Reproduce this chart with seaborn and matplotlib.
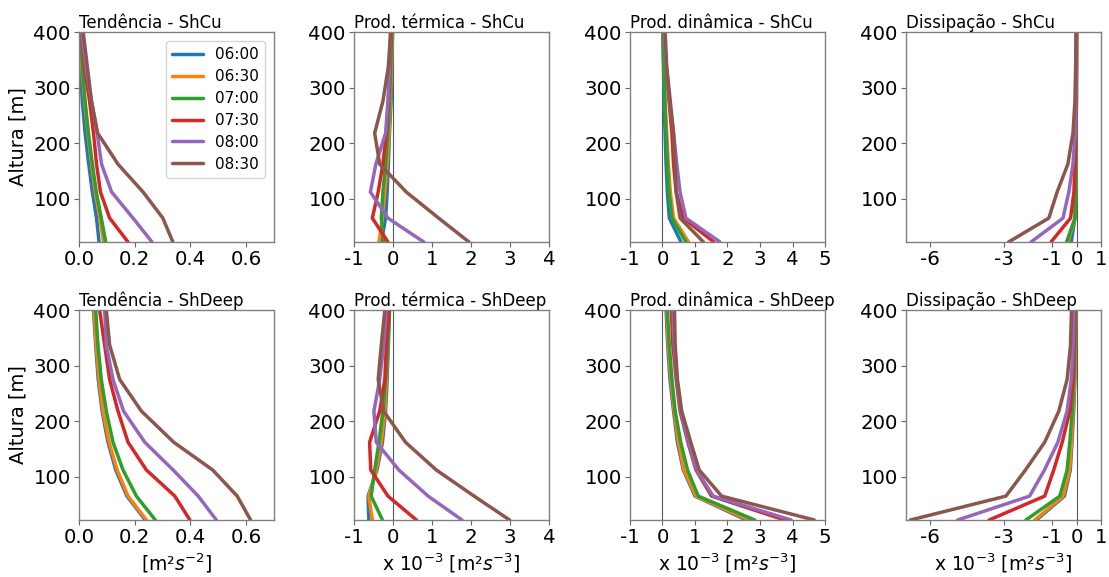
import numpy as np
import pandas as pd
import matplotlib
matplotlib.use("Agg")
import matplotlib.pyplot as plt
import seaborn as sns

# ---------------- data ----------------
times = ["06:00", "06:30", "07:00", "07:30", "08:00", "08:30"]
alturas = [22, 65, 112, 162, 218, 275, 337, 400]

# Tendência - ShCu  [m2 s-2]
tend_shcu = {
    "06:00": [0.072, 0.063, 0.048, 0.035, 0.022, 0.012, 0.005, 0.002],
    "06:30": [0.088, 0.075, 0.058, 0.045, 0.032, 0.020, 0.010, 0.004],
    "07:00": [0.096, 0.080, 0.062, 0.048, 0.034, 0.022, 0.012, 0.005],
    "07:30": [0.176, 0.110, 0.077, 0.063, 0.052, 0.038, 0.020, 0.008],
    "08:00": [0.262, 0.194, 0.117, 0.081, 0.065, 0.045, 0.025, 0.010],
    "08:30": [0.337, 0.301, 0.230, 0.140, 0.067, 0.045, 0.030, 0.015],
}
# Prod. térmica - ShCu  [x1e-3 m2 s-3]
term_shcu = {
    "06:00": [-0.30, -0.19, -0.15, -0.12, -0.09, -0.05, -0.03, -0.01],
    "06:30": [-0.36, -0.27, -0.21, -0.15, -0.10, -0.07, -0.04, -0.02],
    "07:00": [-0.24, -0.30, -0.26, -0.19, -0.13, -0.09, -0.06, -0.03],
    "07:30": [-0.13, -0.53, -0.38, -0.26, -0.17, -0.12, -0.08, -0.05],
    "08:00": [0.79, -0.13, -0.58, -0.44, -0.19, -0.13, -0.09, -0.06],
    "08:30": [1.95, 1.17, 0.34, -0.34, -0.47, -0.26, -0.12, -0.06],
}
# Prod. dinâmica - ShCu
din_shcu = {
    "06:00": [0.57, 0.21, 0.15, 0.11, 0.08, 0.05, 0.03, 0.01],
    "06:30": [0.80, 0.34, 0.24, 0.18, 0.13, 0.08, 0.05, 0.02],
    "07:00": [0.72, 0.29, 0.20, 0.15, 0.11, 0.07, 0.04, 0.02],
    "07:30": [1.58, 0.64, 0.42, 0.34, 0.29, 0.20, 0.12, 0.05],
    "08:00": [1.77, 0.72, 0.54, 0.44, 0.34, 0.22, 0.12, 0.05],
    "08:30": [1.26, 0.54, 0.42, 0.39, 0.34, 0.24, 0.13, 0.08],
}
# Dissipação - ShCu
diss_shcu = {
    "06:00": [-0.22, -0.07, -0.04, -0.03, -0.02, -0.01, -0.005, -0.002],
    "06:30": [-0.36, -0.06, -0.04, -0.03, -0.02, -0.01, -0.005, -0.002],
    "07:00": [-0.41, -0.07, -0.04, -0.03, -0.02, -0.01, -0.005, -0.002],
    "07:30": [-1.05, -0.25, -0.11, -0.07, -0.04, -0.02, -0.01, -0.005],
    "08:00": [-1.87, -0.56, -0.32, -0.15, -0.06, -0.03, -0.02, -0.01],
    "08:30": [-2.79, -1.14, -0.80, -0.36, -0.15, -0.07, -0.04, -0.02],
}
# Tendência - ShDeep
tend_shdeep = {
    "06:00": [0.238, 0.172, 0.132, 0.104, 0.083, 0.069, 0.060, 0.052],
    "06:30": [0.242, 0.176, 0.137, 0.108, 0.086, 0.072, 0.062, 0.054],
    "07:00": [0.274, 0.206, 0.158, 0.122, 0.098, 0.080, 0.068, 0.060],
    "07:30": [0.398, 0.344, 0.242, 0.176, 0.140, 0.110, 0.092, 0.074],
    "08:00": [0.493, 0.428, 0.338, 0.236, 0.160, 0.122, 0.098, 0.092],
    "08:30": [0.616, 0.568, 0.480, 0.340, 0.224, 0.146, 0.110, 0.098],
}
# Prod. térmica - ShDeep
term_shdeep = {
    "06:00": [-0.62, -0.64, -0.41, -0.27, -0.19, -0.15, -0.12, -0.09],
    "06:30": [-0.53, -0.62, -0.43, -0.30, -0.21, -0.17, -0.13, -0.10],
    "07:00": [-0.27, -0.56, -0.47, -0.36, -0.26, -0.19, -0.13, -0.09],
    "07:30": [0.60, -0.13, -0.57, -0.60, -0.34, -0.21, -0.17, -0.10],
    "08:00": [1.77, 0.90, 0.15, -0.43, -0.49, -0.34, -0.24, -0.17],
    "08:30": [2.99, 2.08, 1.11, 0.32, -0.24, -0.38, -0.30, -0.21],
}
# Prod. dinâmica - ShDeep
din_shdeep = {
    "06:00": [2.58, 1.00, 0.64, 0.46, 0.34, 0.23, 0.16, 0.11],
    "06:30": [2.66, 1.03, 0.66, 0.49, 0.36, 0.26, 0.18, 0.13],
    "07:00": [2.84, 1.10, 0.77, 0.56, 0.39, 0.29, 0.21, 0.15],
    "07:30": [3.76, 1.51, 1.03, 0.78, 0.54, 0.42, 0.32, 0.27],
    "08:00": [3.96, 1.56, 1.05, 0.80, 0.56, 0.44, 0.36, 0.32],
    "08:30": [4.67, 1.82, 1.13, 0.87, 0.59, 0.46, 0.39, 0.37],
}
# Dissipação - ShDeep
diss_shdeep = {
    "06:00": [-1.65, -0.50, -0.26, -0.19, -0.12, -0.07, -0.04, -0.02],
    "06:30": [-1.72, -0.55, -0.29, -0.21, -0.14, -0.08, -0.05, -0.03],
    "07:00": [-2.08, -0.69, -0.39, -0.28, -0.18, -0.11, -0.07, -0.04],
    "07:30": [-3.59, -1.31, -0.94, -0.59, -0.28, -0.15, -0.10, -0.07],
    "08:00": [-4.88, -1.93, -1.32, -0.77, -0.39, -0.22, -0.14, -0.11],
    "08:30": [-6.82, -2.90, -2.10, -1.31, -0.73, -0.39, -0.25, -0.21],
}

titles = [
    "Tendência - ShCu", "Prod. térmica - ShCu", "Prod. dinâmica - ShCu", "Dissipação - ShCu",
    "Tendência - ShDeep", "Prod. térmica - ShDeep", "Prod. dinâmica - ShDeep", "Dissipação - ShDeep",
]
panels = [tend_shcu, term_shcu, din_shcu, diss_shcu,
          tend_shdeep, term_shdeep, din_shdeep, diss_shdeep]
xlims = [(0, 0.7), (-1, 4), (-1, 5), (-7, 1)]
xticks = [[0.0, 0.2, 0.4, 0.6], [-1, 0, 1, 2, 3, 4], [-1, 0, 1, 2, 3, 4, 5], [-6, -3, -1, 0, 1]]
xticklabels = [["0.0", "0.2", "0.4", "0.6"], ["-1", "0", "1", "2", "3", "4"],
               ["-1", "0", "1", "2", "3", "4", "5"], ["-6", "-3", "-1", "0", "1"]]
yticks = [100, 200, 300, 400]
xlabels = ["[m²$s^{-2}$]", "x 10$^{-3}$ [m²$s^{-3}$]", "x 10$^{-3}$ [m²$s^{-3}$]", "x 10$^{-3}$ [m²$s^{-3}$]"]

# ---------------- style ----------------
sns.set_style("ticks")
plt.rcParams["font.family"] = ["DejaVu Sans"]
plt.rcParams["text.color"] = "black"
plt.rcParams["axes.labelcolor"] = "black"

fig = plt.figure(figsize=(11.09, 5.77), dpi=100)
W, H = 1109, 577
lefts = [79, 354, 630, 906]
tops = [32, 310]
aw, ah = 195, 210

palette = dict(zip(times, sns.color_palette("tab10", 6)))

for idx, (data, title) in enumerate(zip(panels, titles)):
    r, c = divmod(idx, 4)
    ax = fig.add_axes([lefts[c] / W, 1 - (tops[r] + ah) / H, aw / W, ah / H])
    rows = []
    for t in times:
        for z, v in zip(alturas, data[t]):
            rows.append({"time": t, "z": z, "val": v})
    df = pd.DataFrame(rows)
    if c > 0:
        ax.axvline(0, color="0.35", lw=0.8, zorder=1)
    sns.lineplot(data=df, x="val", y="z", hue="time", palette=palette,
                 sort=False, estimator=None, lw=2.5, ax=ax,
                 legend=(idx == 0))
    ax.set_xlim(*xlims[c])
    ax.set_ylim(alturas[0], 400)
    ax.set_xticks(xticks[c])
    ax.set_xticklabels(xticklabels[c])
    ax.set_yticks(yticks)
    ax.tick_params(labelsize=14.2, color="0.4", length=3.5, labelcolor="black", pad=2.5)
    for s in ax.spines.values():
        s.set_color("0.5")
        s.set_linewidth(1.0)
    ax.set_title(title, loc="left", fontsize=12, pad=2)
    ax.set_ylabel("Altura [m]" if c == 0 else "", fontsize=14, labelpad=4)
    ax.set_xlabel(xlabels[c] if r == 1 else "", fontsize=13.5, labelpad=3)
    if idx == 0:
        sns.move_legend(ax, "upper right", title=None, fontsize=11,
                        handlelength=2.0, borderaxespad=0.6, labelspacing=0.45,
                        handletextpad=0.8)

fig.savefig("out.png", dpi=100)
